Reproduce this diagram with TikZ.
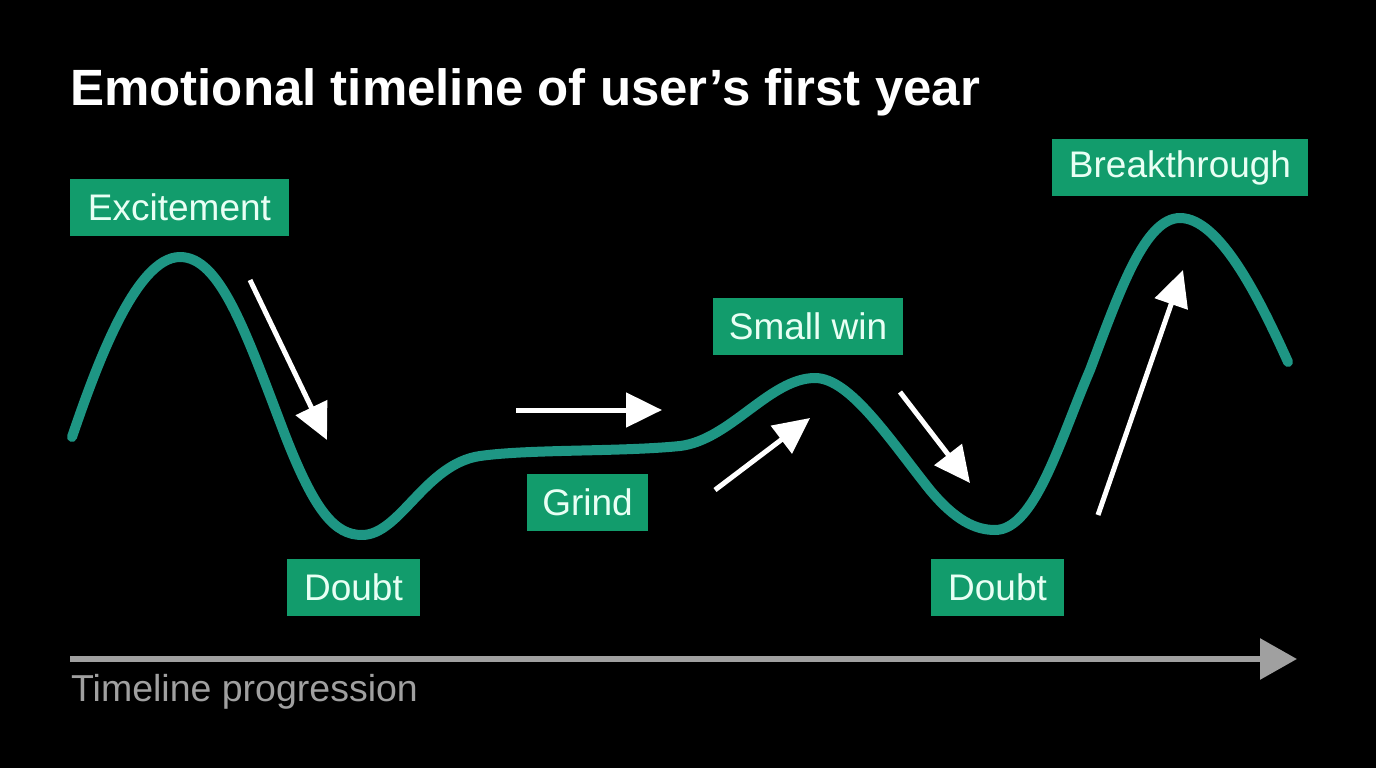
\documentclass[tikz,border=0pt]{standalone}
\usepackage{fontspec}
\setmainfont{Liberation Sans}
\usetikzlibrary{arrows.meta}
\definecolor{boxgreen}{RGB}{18,156,108}
\definecolor{curveteal}{RGB}{30,150,132}
\definecolor{mint}{RGB}{232,255,244}
\definecolor{axisgray}{RGB}{160,160,160}
\tikzset{
  lbl/.style={fill=boxgreen, text=mint, inner sep=0pt, minimum height=57pt,
    font=\fontsize{37}{42}\selectfont, anchor=center},
  movearrow/.style={draw=white, line width=5pt, -{Triangle[length=36pt,width=34pt]}},
  emocurve/.style={draw=curveteal, line width=10pt, line cap=round, line join=round},
}
\begin{document}
\begin{tikzpicture}[x=1pt,y=-1pt]
\fill[black] (0,0) rectangle (1376,768);
\useasboundingbox (0,0) rectangle (1376,768);

\node[anchor=base west, text=white, font=\fontsize{51}{56}\selectfont\bfseries, inner sep=0pt] (title) at (70,105) {Emotional timeline of user’s first year};

% curve
\draw[emocurve] (72,437) .. controls (95,370) and (135,257) .. (180,257)
  .. controls (220,257) and (245,330) .. (285,435)
  .. controls (315,512) and (335,535) .. (362,535)
  .. controls (400,535) and (425,464) .. (480,456)
  .. controls (530,449) and (620,452) .. (680,446)
  .. controls (730,440) and (770,378) .. (815,378)
  .. controls (850,378) and (890,440) .. (930,490)
  .. controls (955,520) and (975,530) .. (995,530)
  .. controls (1035,530) and (1060,440) .. (1090,370)
  .. controls (1120,290) and (1145,218) .. (1180,218)
  .. controls (1220,218) and (1260,300) .. (1288,362);

% labels
\node[lbl, minimum width=219pt] (exc) at (179.5,207.5) {Excitement};
\node[lbl, minimum width=133pt] (doubt1) at (353.5,587) {Doubt};
\node[lbl, minimum width=121pt] (grind) at (587.5,502.5) {Grind};
\node[lbl, minimum width=190pt] (win) at (808,326.5) {Small win};
\node[lbl, minimum width=133pt] (doubt2) at (997.5,587) {Doubt};
\node[lbl, minimum width=256pt] (brk) at (1180,167.5) {Breakthrough};

% arrows
\coordinate (a1s) at (250,280); \coordinate (a1e) at (327,440);
\coordinate (a2s) at (516,410); \coordinate (a2e) at (662,410);
\coordinate (a3s) at (715,490); \coordinate (a3e) at (810,418);
\coordinate (a4s) at (900,392); \coordinate (a4e) at (970,483);
\coordinate (a5s) at (1098,515); \coordinate (a5e) at (1183,270);
\draw[movearrow] (a1s) -- (a1e);
\draw[movearrow] (a2s) -- (a2e);
\draw[movearrow] (a3s) -- (a3e);
\draw[movearrow] (a4s) -- (a4e);
\draw[movearrow] (a5s) -- (a5e);

% axis
\coordinate (ax0) at (70,659); \coordinate (ax1) at (1297,659);
\draw[draw=axisgray, line width=6pt, -{Triangle[length=37pt,width=40pt]}] (ax0) -- (ax1);
\node[anchor=base west, text=axisgray, font=\fontsize{37.5}{42}\selectfont, inner sep=0pt] (tl) at (71,701) {Timeline progression};
\end{tikzpicture}
\end{document}
